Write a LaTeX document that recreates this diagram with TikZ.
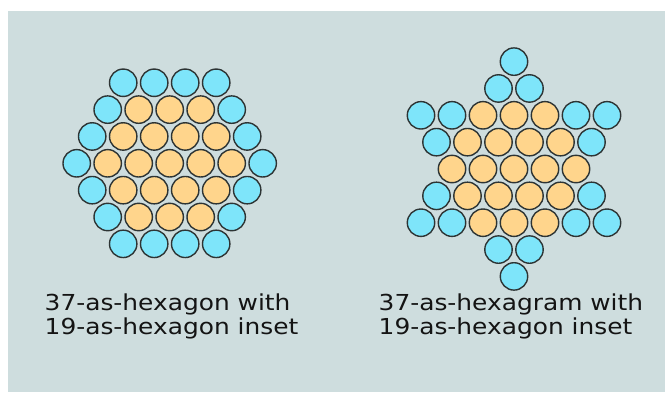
\documentclass[tikz,border=0pt]{standalone}
\usepackage{fontspec}
\newfontfamily\labelfont[FakeStretch=1.13]{DejaVu Sans}
\definecolor{panel}{RGB}{206,221,222}
\definecolor{outer}{RGB}{126,229,250}
\definecolor{inner}{RGB}{255,213,140}
\definecolor{rim}{RGB}{45,52,52}
\definecolor{ink}{RGB}{20,20,20}
\tikzset{
  disc/.style={circle, draw=rim, line width=1.4pt, minimum size=27.4pt, inner sep=0pt},
  caption/.style={anchor=base west, align=left, inner sep=0pt, text=ink,
    font=\labelfont\fontsize{22}{24}\selectfont}
}
\begin{document}
\begin{tikzpicture}[x=1pt, y=-1pt]
  \useasboundingbox (0,0) rectangle (665,392);
  \fill[white] (0,0) rectangle (665,392);
  \fill[panel] (8,11) rectangle (665,392);

  % triangular lattice: spacing d, row height h
  \def\dd{31}
  \def\hh{26.85}

  % 37 discs as a hexagon, the central 19 highlighted
  \foreach \q in {-3,...,3} {
    \foreach \r in {-3,...,3} {
      \pgfmathtruncatemacro\s{-\q-\r}
      \pgfmathtruncatemacro\dist{max(abs(\q),abs(\r),abs(\s))}
      \pgfmathtruncatemacro\qi{\q+4}
      \pgfmathtruncatemacro\ri{\r+4}
      \ifnum\dist<4
        \ifnum\dist<3
          \node[disc, fill=inner] (hexa-\qi-\ri) at ({169.7+\dd*(\q+\r/2)}, {163.3+\hh*\r}) {};
        \else
          \node[disc, fill=outer] (hexa-\qi-\ri) at ({169.7+\dd*(\q+\r/2)}, {163.3+\hh*\r}) {};
        \fi
      \fi
    }
  }

  % 37 discs as a hexagram, the central 19 highlighted
  \foreach \q in {-4,...,4} {
    \foreach \r in {-4,...,4} {
      \pgfmathtruncatemacro\s{-\q-\r}
      \pgfmathtruncatemacro\mx{max(\q,\r,\s)}
      \pgfmathtruncatemacro\mn{min(\q,\r,\s)}
      \pgfmathtruncatemacro\dist{max(\mx,-\mn)}
      \pgfmathtruncatemacro\keep{(\mx<3) || (\mn>-3)}
      \pgfmathtruncatemacro\qi{\q+4}
      \pgfmathtruncatemacro\ri{\r+4}
      \ifnum\keep=1
        \ifnum\dist<3
          \node[disc, fill=inner] (star-\qi-\ri) at ({514+\dd*(\q+\r/2)}, {169+\hh*\r}) {};
        \else
          \node[disc, fill=outer] (star-\qi-\ri) at ({514+\dd*(\q+\r/2)}, {169+\hh*\r}) {};
        \fi
      \fi
    }
  }

  \node[caption] (caphexa) at (44.5,334.5) {37-as-hexagon with\\19-as-hexagon inset};
  \node[caption] (capstar) at (378.5,334.5) {37-as-hexagram with\\19-as-hexagon inset};
\end{tikzpicture}
\end{document}
